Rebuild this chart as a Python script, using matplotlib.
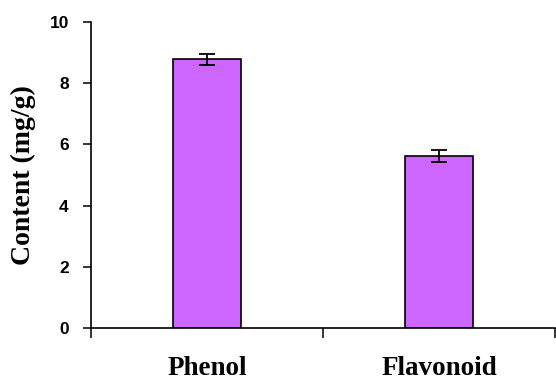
import matplotlib
matplotlib.use("Agg")
import matplotlib.pyplot as plt
import numpy as np

categories = ["Phenol", "Flavonoid"]
values = [8.78, 5.62]
errors = [0.19, 0.19]
y_ticks = [0, 2, 4, 6, 8, 10]

fig = plt.figure(figsize=(5.56, 3.80), dpi=100)
ax = fig.add_axes([91 / 556, 52 / 380, 464 / 556, 306 / 380])

x = np.arange(len(categories))
ax.bar(x, values, width=0.29, color="#CC66FF", edgecolor="black", linewidth=1.2, zorder=2)
ax.errorbar(x, values, yerr=errors, fmt="none", ecolor="black", elinewidth=1.3,
            capsize=6, capthick=1.3, zorder=3)

ax.set_xlim(-0.5, len(categories) - 0.5)
ax.set_ylim(0, 10)

for side in ("top", "right"):
    ax.spines[side].set_visible(False)
ax.spines["left"].set_linewidth(1.2)
ax.spines["bottom"].set_linewidth(1.2)

ax.set_yticks(y_ticks)
ax.set_yticklabels([str(t) for t in y_ticks], fontfamily="Liberation Sans",
                   fontweight="bold", fontsize=12.5)
ax.tick_params(axis="y", direction="out", length=6, width=1.1, pad=10)

# category boundaries carry the tick marks, labels sit at the bar centres
ax.set_xticks(np.arange(-0.5, len(categories), 1.0))
ax.set_xticklabels([])
ax.tick_params(axis="x", which="major", direction="out", length=7, width=1.1)
ax.set_xticks(x, minor=True)
ax.set_xticklabels(categories, minor=True, fontfamily="Liberation Serif",
                   fontweight="bold", fontsize=19.5)
ax.tick_params(axis="x", which="minor", length=0, pad=20)

ax.set_ylabel("Content (mg/g)", fontfamily="Liberation Serif", fontweight="bold",
              fontsize=20, labelpad=10)

fig.savefig("out.png", dpi=100)
